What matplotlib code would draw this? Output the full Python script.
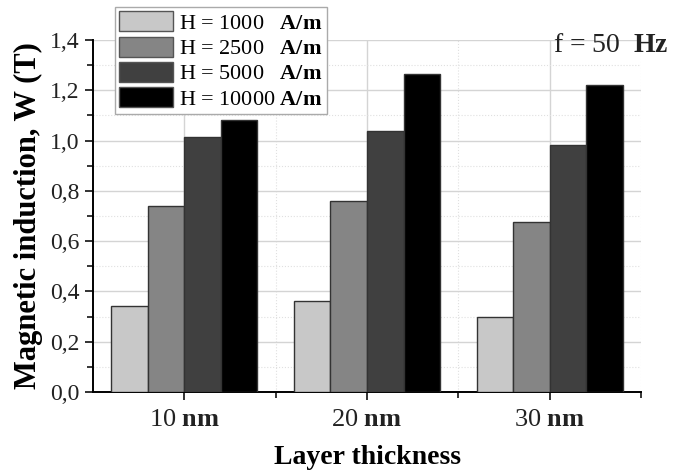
import numpy as np
import matplotlib
matplotlib.use("Agg")
import matplotlib.pyplot as plt
from matplotlib.ticker import MultipleLocator, FixedLocator, FuncFormatter

# data
thickness = ["10", "20", "30"]
field_h = ["1000", "2500", "5000", "10000"]
b_1000 = [0.344, 0.360, 0.298]
b_2500 = [0.738, 0.759, 0.678]
b_5000 = [1.013, 1.037, 0.983]
b_10000 = [1.081, 1.264, 1.221]
series = [b_1000, b_2500, b_5000, b_10000]
colors = ["#c8c8c8", "#858585", "#404040", "#000000"]

plt.rcParams["font.family"] = ["Liberation Serif", "DejaVu Serif"]
plt.rcParams["mathtext.fontset"] = "custom"
plt.rcParams["mathtext.rm"] = "Liberation Serif"
plt.rcParams["mathtext.bf"] = "Liberation Serif:bold"

fig = plt.figure(figsize=(6.76, 4.74), dpi=100)
ax = fig.add_axes([93 / 676, 82 / 474, 548 / 676, 352 / 474])

x = np.arange(len(thickness))
width = 0.2
pads = ["   ", "   ", "   ", " "]
for i, vals in enumerate(series):
    ax.bar(x + (i - 1.5) * width, vals, width, color=colors[i],
           edgecolor="#333333", linewidth=1.0, zorder=3,
           label="H = %s%s$\\mathbf{A/m}$" % (field_h[i], pads[i]))

ax.set_xlim(-0.5, 2.5)
ax.set_ylim(0, 1.4)
ax.yaxis.set_major_locator(MultipleLocator(0.2))
ax.yaxis.set_minor_locator(MultipleLocator(0.1))
ax.yaxis.set_major_formatter(FuncFormatter(lambda v, p: ("%.1f" % v).replace(".", ",")))
ax.xaxis.set_major_locator(FixedLocator(x))
ax.xaxis.set_minor_locator(FixedLocator([0.5, 1.5, 2.5]))
ax.set_xticklabels(["%s $\\mathbf{nm}$" % t for t in thickness])

# no gridline on the top edge, like the reference
ax.grid(which="major", color="#d4d4d4", linewidth=1.0, linestyle="-", zorder=0)
ax.grid(which="minor", color="#e0e0e0", linewidth=0.8, linestyle=":", zorder=0)
ax.set_axisbelow(True)
for gl in ax.get_ygridlines():
    if abs(gl.get_ydata()[0] - 1.4) < 1e-6:
        gl.set_visible(False)

for s in ["top", "right"]:
    ax.spines[s].set_visible(False)
for s in ["left", "bottom"]:
    ax.spines[s].set_linewidth(1.4)
ax.tick_params(which="major", direction="out", length=6, width=1.3,
               colors="#222222")
ax.tick_params(which="minor", direction="out", length=4, width=1.1)
ax.tick_params(axis="y", labelsize=17)
ax.tick_params(axis="x", labelsize=19, pad=6)

ax.set_ylabel("Magnetic induction, W (T)", fontsize=22, fontweight="bold",
              labelpad=5)
ax.set_xlabel("Layer thickness", fontsize=20, fontweight="bold", labelpad=10)

fig.text(553 / 676, 1 - 45 / 474, "f = 50  $\\mathbf{Hz}$", fontsize=20,
         va="center", ha="left", color="#222222")

leg = ax.legend(loc="upper left", bbox_to_anchor=(115 / 676, 1 - 7 / 474),
                bbox_transform=fig.transFigure, fontsize=16, frameon=True,
                fancybox=False, edgecolor="#aaaaaa", framealpha=1,
                handlelength=2.4, handleheight=1.0, handletextpad=0.3,
                labelspacing=0.12, borderpad=0.2, borderaxespad=0)
leg.get_frame().set_linewidth(1.0)
for p in leg.get_patches():
    p.set_edgecolor("#555555")

fig.savefig("out.png", dpi=100)
